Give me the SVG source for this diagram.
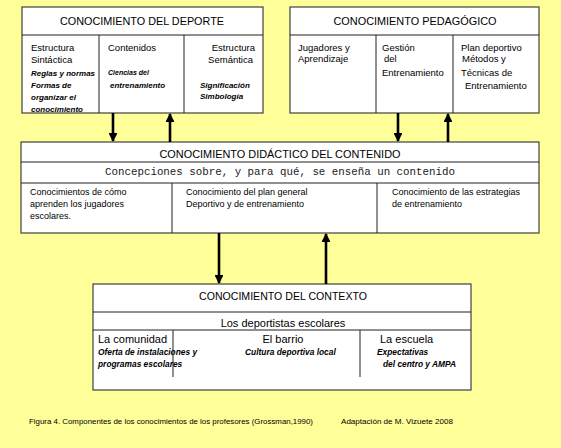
<svg xmlns="http://www.w3.org/2000/svg" width="561" height="448" viewBox="0 0 561 448">
<defs>
<style>
.box{fill:#ffffff;stroke:#404040;stroke-width:1.2}
.div{stroke:#202020;stroke-width:1;fill:none}
.hd{font-family:"Liberation Sans",Arial,sans-serif;font-size:11.5px;fill:#000;text-anchor:middle}
.t{font-family:"Liberation Sans",Arial,sans-serif;font-size:9.5px;fill:#000}
.s{font-family:"Liberation Sans",Arial,sans-serif;font-size:9px;fill:#000}
.i{font-family:"Liberation Sans",Arial,sans-serif;font-size:8px;font-style:italic;font-weight:bold;fill:#000}
.i4{font-family:"Liberation Sans",Arial,sans-serif;font-size:8.4px;font-style:italic;font-weight:bold;fill:#000}
.i2{font-family:"Liberation Sans",Arial,sans-serif;font-size:7px;font-style:italic;font-weight:bold;fill:#000}
.m{font-family:"Liberation Mono","Courier New",monospace;font-size:10.8px;fill:#1a1a1a;text-anchor:middle}
.c{font-family:"Liberation Sans",Arial,sans-serif;font-size:11px;fill:#000}
.cap{font-family:"Liberation Sans",Arial,sans-serif;font-size:7.3px;fill:#000}
.arr{stroke:#000;stroke-width:2.6;fill:none;marker-end:url(#ah)}
</style>
<marker id="ah" viewBox="0 0 10 10" refX="9" refY="5" markerWidth="3.4" markerHeight="3.4" orient="auto" markerUnits="strokeWidth">
<path d="M0,0 L10,5 L0,10 z" fill="#000"/>
</marker>
</defs>
<rect x="0" y="0" width="561" height="448" fill="#ffff99"/>

<g id="deporte">
<rect class="box" x="22" y="7" width="241" height="106"/>
<line class="div" x1="22" y1="35" x2="263" y2="35"/>
<line class="div" x1="99" y1="35" x2="99" y2="113"/>
<line class="div" x1="184" y1="35" x2="184" y2="113"/>
<text class="hd" x="142" y="25" textLength="164" lengthAdjust="spacingAndGlyphs">CONOCIMIENTO DEL DEPORTE</text>
<text class="t" x="31" y="51">Estructura</text>
<text class="t" x="31" y="63">Sintáctica</text>
<text class="i" x="31" y="76">Reglas y normas</text>
<text class="i" x="31" y="88">Formas de</text>
<text class="i" x="31" y="100">organizar el</text>
<text class="i" x="31" y="112">conocimiento</text>
<text class="t" x="108" y="51">Contenidos</text>
<text class="i2" x="108" y="75">Ciencias del</text>
<text class="i" x="110" y="88">entrenamiento</text>
<text class="t" x="255" y="51" text-anchor="end">Estructura</text>
<text class="t" x="253" y="63" text-anchor="end">Semántica</text>
<text class="i" x="200" y="88">Significación</text>
<text class="i" x="200" y="99">Simbología</text>
</g>

<g id="pedagogico">
<rect class="box" x="290" y="7" width="249" height="106"/>
<line class="div" x1="290" y1="35" x2="539" y2="35"/>
<line class="div" x1="376" y1="35" x2="376" y2="113"/>
<line class="div" x1="453" y1="35" x2="453" y2="113"/>
<text class="hd" x="415" y="25" textLength="163" lengthAdjust="spacingAndGlyphs">CONOCIMIENTO PEDAGÓGICO</text>
<text class="t" x="298" y="51">Jugadores y</text>
<text class="t" x="298" y="62">Aprendizaje</text>
<text class="t" x="382" y="51">Gestión</text>
<text class="t" x="384" y="62">del</text>
<text class="t" x="382" y="76">Entrenamiento</text>
<text class="t" x="461" y="51">Plan deportivo</text>
<text class="t" x="462" y="62">Métodos y</text>
<text class="t" x="461" y="76">Técnicas de</text>
<text class="t" x="465" y="89">Entrenamiento</text>
</g>

<g id="didactico">
<rect class="box" x="21" y="142" width="518" height="91"/>
<line class="div" x1="21" y1="162" x2="539" y2="162"/>
<line class="div" x1="21" y1="183" x2="539" y2="183"/>
<line class="div" x1="172" y1="183" x2="172" y2="233"/>
<line class="div" x1="377" y1="183" x2="377" y2="233"/>
<text class="hd" x="280" y="158" textLength="241" lengthAdjust="spacingAndGlyphs">CONOCIMIENTO DIDÁCTICO DEL CONTENIDO</text>
<text class="m" x="280" y="175">Concepciones sobre, y para qué, se enseña un contenido</text>
<text class="s" x="30" y="195">Conocimientos de cómo</text>
<text class="s" x="30" y="207">aprenden los jugadores</text>
<text class="s" x="30" y="219">escolares.</text>
<text class="s" x="186" y="195">Conocimiento del plan general</text>
<text class="s" x="186" y="207">Deportivo y de entrenamiento</text>
<text class="s" x="392" y="195">Conocimiento de las estrategias</text>
<text class="s" x="392" y="207">de entrenamiento</text>
</g>

<g id="contexto">
<rect class="box" x="93" y="284" width="378" height="106"/>
<line class="div" x1="93" y1="312" x2="471" y2="312"/>
<line class="div" x1="93" y1="330" x2="471" y2="330"/>
<line class="div" x1="173" y1="330" x2="173" y2="377"/>
<line class="div" x1="360" y1="330" x2="360" y2="377"/>
<text class="hd" x="283" y="300" textLength="168" lengthAdjust="spacingAndGlyphs">CONOCIMIENTO DEL CONTEXTO</text>
<text class="c" x="283" y="327" text-anchor="middle">Los deportistas escolares</text>
<text class="c" x="98" y="343">La comunidad</text>
<text class="c" x="283" y="343" text-anchor="middle">El barrio</text>
<text class="c" x="380" y="343">La escuela</text>
<text class="i4" x="98" y="355">Oferta de instalaciones y</text>
<text class="i4" x="98" y="367">programas escolares</text>
<text class="i4" x="245" y="355">Cultura deportiva local</text>
<text class="i4" x="377" y="355">Expectativas</text>
<text class="i4" x="383" y="367">del centro y AMPA</text>
</g>

<g id="connectors">
<line class="arr" x1="113" y1="113" x2="113" y2="141"/>
<line class="arr" x1="170" y1="142" x2="170" y2="114"/>
<line class="arr" x1="398" y1="113" x2="398" y2="141"/>
<line class="arr" x1="448" y1="142" x2="448" y2="114"/>
<line class="arr" x1="219" y1="233" x2="219" y2="283"/>
<line class="arr" x1="326" y1="284" x2="326" y2="234"/>
</g>

<g id="caption">
<text class="cap" x="29" y="424" textLength="284" lengthAdjust="spacingAndGlyphs">Figura 4. Componentes de los conocimientos de los profesores (Grossman,1990)</text>
<text class="cap" x="341" y="424" textLength="112" lengthAdjust="spacingAndGlyphs">Adaptación de M. Vizuete  2008</text>
</g>
</svg>
